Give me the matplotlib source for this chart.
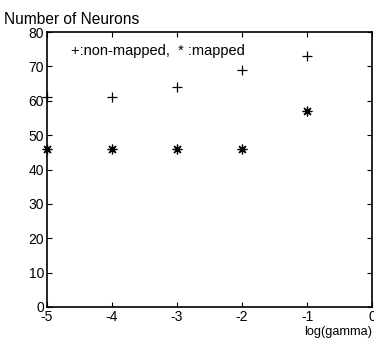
import numpy as np
import matplotlib
matplotlib.use('Agg')
import matplotlib.pyplot as plt

plt.rcParams['font.family'] = ['Liberation Sans', 'DejaVu Sans']
plt.rcParams['axes.unicode_minus'] = False

# 数据
log_gamma = [-5, -4, -3, -2, -1]
non_mapped = [61, 61, 64, 69, 73]
mapped = [46, 46, 46, 46, 57]

fig = plt.figure(figsize=(3.74, 3.39), dpi=100)
ax = fig.add_axes([0.1257, 0.0944, 0.8690, 0.8112])

ax.plot(log_gamma, non_mapped, linestyle='none', marker='+', color='k',
        markersize=7, markeredgewidth=0.9, clip_on=False)
ax.plot(log_gamma, mapped, linestyle='none', marker=(8, 2, 0), color='k',
        markersize=7, markeredgewidth=0.9, clip_on=False)

ax.set_xlim(-5, 0)
ax.set_ylim(0, 80)
ax.set_xticks(np.arange(-5, 1, 1))
ax.set_yticks(np.arange(0, 90, 10))
ax.tick_params(direction='in', length=3.5, width=0.8, labelsize=10,
               top=True, right=True, pad=2, colors='k')
for s in ax.spines.values():
    s.set_linewidth(1.2)

ax.text(0.074, 0.955, '+:non-mapped,  * :mapped', transform=ax.transAxes,
        fontsize=10.5, ha='left', va='top')

fig.text(0.01, 0.965, 'Number of Neurons', fontsize=11.2, ha='left', va='top')
fig.text(0.995, 0.004, 'log(gamma)', fontsize=9.2, ha='right', va='bottom')

fig.savefig('out.png', dpi=100)
